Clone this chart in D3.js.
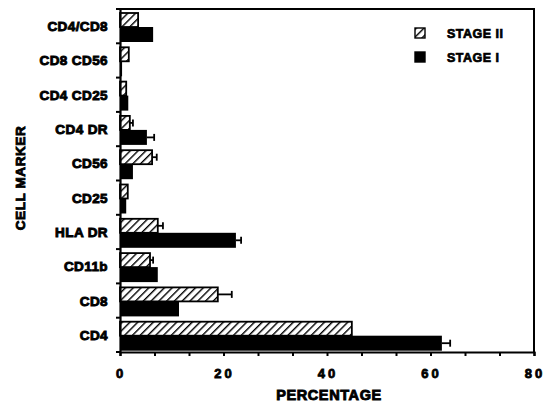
<!DOCTYPE html>
<html><head><meta charset="utf-8">
<script src="https://cdn.jsdelivr.net/npm/d3@7"></script>
<style>body{margin:0;background:#fff}svg text{font-family:"Liberation Sans",Arial,sans-serif;font-weight:bold}</style>
</head><body><svg id="c" width="549" height="407"></svg>
<script>
const categories = ["CD4/CD8","CD8 CD56","CD4 CD25","CD4 DR","CD56","CD25","HLA DR","CD11b","CD8","CD4"];
const stage2 = [3.5,1.7,1.2,1.9,6.2,1.5,7.3,5.8,18.9,44.8];
const stage2Err = [0,0,0,0.6,0.9,0,1.0,0.6,2.7,0];
const stage1 = [6.4,0.4,1.6,5.2,2.5,1.2,22.4,7.3,11.4,62.2];
const stage1Err = [0,0,0,1.4,0,0,1.0,0,0,1.6];
const xTicks = [0,20,40,60,80];
const legendLabels = ["STAGE II","STAGE I"];

const svg = d3.select("#c");
const L=120,R=534,T=9,B=352;
const x = d3.scaleLinear().domain([0,80]).range([L,R]);
const y = d3.scaleBand().domain(categories).range([T,B]);
const bw = y.bandwidth();

const defs = svg.append("defs");
const pat = defs.append("pattern").attr("id","hatch").attr("patternUnits","userSpaceOnUse")
  .attr("width",5.5).attr("height",5.5).attr("patternTransform","rotate(45)");
pat.append("rect").attr("width",5.5).attr("height",5.5).attr("fill","#fff");
pat.append("line").attr("x1",0).attr("y1",0).attr("x2",0).attr("y2",5.5).attr("stroke","#000").attr("stroke-width",2.8);

const h2top = 4, h2h = 14, h1h = 15;
svg.append("g").selectAll("rect").data(categories).join("rect")
  .attr("x",x(0)).attr("y",d=>y(d)+h2top)
  .attr("width",(d,i)=>x(stage2[i])-x(0)).attr("height",h2h)
  .attr("fill","url(#hatch)").attr("stroke","#000").attr("stroke-width",1.8);
svg.append("g").selectAll("rect").data(categories).join("rect")
  .attr("x",x(0)).attr("y",d=>y(d)+h2top+h2h)
  .attr("width",(d,i)=>x(stage1[i])-x(0)).attr("height",h1h)
  .attr("fill","#000");
function errs(vals, errsArr, off){
  const g = svg.append("g").attr("stroke","#000").attr("stroke-width",1.8);
  categories.forEach((c,i)=>{
    if(!errsArr[i]) return;
    const cy = y(c)+off;
    g.append("line").attr("x1",x(vals[i])).attr("x2",x(vals[i]+errsArr[i])).attr("y1",cy).attr("y2",cy);
    g.append("line").attr("x1",x(vals[i]+errsArr[i])).attr("x2",x(vals[i]+errsArr[i])).attr("y1",cy-3.5).attr("y2",cy+3.5);
  });
}
errs(stage2,stage2Err,h2top+h2h/2);
errs(stage1,stage1Err,h2top+h2h+h1h/2);

svg.append("path").attr("d",`M${L},${T}H${R}V${B}`).attr("fill","none").attr("stroke","#000").attr("stroke-width",2);

const xa = svg.append("g").attr("transform",`translate(0,${B})`)
  .call(d3.axisBottom(x).tickValues(d3.range(0,81,80/12)).tickSize(4).tickFormat(""));
xa.select(".domain").attr("stroke-width",2.2);
xa.selectAll(".tick line").attr("stroke-width",2);
svg.append("g").selectAll("text").data(xTicks).join("text")
  .attr("x",d=>x(d)+1).attr("y",378).attr("text-anchor","middle")
  .attr("font-size",13).attr("letter-spacing",3).attr("stroke","#000").attr("stroke-width",0.8)
  .text(d=>String(d));
const ya = svg.append("g").attr("transform",`translate(${L},0)`)
  .call(d3.axisLeft(y).tickSize(0).tickFormat(""));
ya.select(".domain").attr("stroke-width",2.2);
svg.append("g").selectAll("line").data(d3.range(categories.length+1)).join("line")
  .attr("x1",L-4).attr("x2",L).attr("y1",i=>T+i*bw).attr("y2",i=>T+i*bw)
  .attr("stroke","#000").attr("stroke-width",2);
svg.append("g").selectAll("text").data(categories).join("text")
  .attr("x",108).attr("y",d=>y(d)+bw/2+5).attr("text-anchor","end")
  .attr("font-size",13.5).attr("letter-spacing",0.4).attr("stroke","#000").attr("stroke-width",0.9).text(d=>d);

svg.append("text").attr("x",329).attr("y",400).attr("text-anchor","middle")
  .attr("font-size",14.5).attr("letter-spacing",0.6).attr("stroke","#000").attr("stroke-width",0.9).text("PERCENTAGE");
svg.append("text").attr("transform","translate(25,178) rotate(-90)").attr("text-anchor","middle")
  .attr("font-size",13.5).attr("letter-spacing",0.6).attr("stroke","#000").attr("stroke-width",0.9).text("CELL MARKER");

const lg = svg.append("g");
const fills = ["url(#hatch)","#000"];
legendLabels.forEach((t,i)=>{
  const ly = 28 + i*24;
  lg.append("rect").attr("x",415).attr("y",ly).attr("width",10).attr("height",10)
    .attr("fill",fills[i]).attr("stroke","#000").attr("stroke-width",1.4);
  lg.append("text").attr("x",447).attr("y",ly+10).attr("font-size",12.5)
    .attr("letter-spacing",0.5).attr("stroke","#000").attr("stroke-width",0.7).text(t);
});
</script></body></html>
